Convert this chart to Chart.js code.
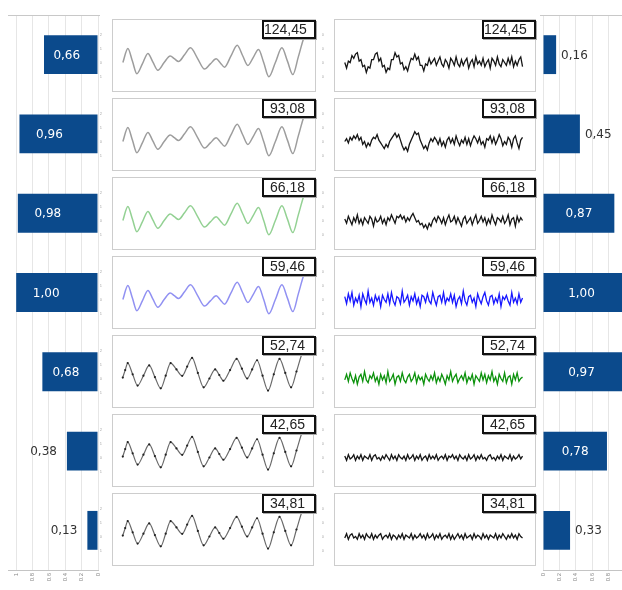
<!DOCTYPE html>
<html>
<head>
<meta charset="utf-8">
<script src="https://cdn.jsdelivr.net/npm/chart.js@4.4.1/dist/chart.umd.min.js"></script>
<style>
  html, body { margin: 0; padding: 0; background: #fff; }
  #stage { position: relative; width: 622px; height: 590px; overflow: hidden; background: #fff; }
  .cv { position: absolute; }
  .tag {
    position: absolute; box-sizing: border-box; width: 54px; height: 19px;
    border: 2px solid #111; background: #fff; box-shadow: 1px 1px 0 #aaa;
    font: 14px "Liberation Sans", Arial, sans-serif; color: #222;
    text-align: right; padding-right: 9px; line-height: 15px;
  }
</style>
</head>
<body>
<div id="stage"></div>
<script>
// categories (one row per panel) and the two score columns
const freqLabels = ['124,45', '93,08', '66,18', '59,46', '52,74', '42,65', '34,81'];
const leftScores = [0.66, 0.96, 0.98, 1.00, 0.68, 0.38, 0.13];
const rightScores = [0.16, 0.45, 0.87, 1.00, 0.97, 0.78, 0.33];

// smooth reference signal (top four left panels): [time, amplitude]
const waveSmooth = [
  [0, 0], [55, 1.0], [105, 0.1], [154, -0.8], [215, -0.1], [276, 0.65], [330, 0.05],
  [386, -0.55], [455, 0], [522, 0.47], [568, 0.27], [614, 0.07], [680, 0.55], [746, 1.05],
  [823, 0.3], [901, -0.47], [965, -0.1], [1029, 0.26], [1075, -0.03], [1121, -0.33],
  [1191, 0.45], [1261, 1.23], [1320, 0.5], [1379, -0.21], [1437, 0.35], [1496, 0.93],
  [1553, 0], [1610, -1.02], [1682, 0], [1754, 1.05], [1815, 0.1], [1875, -0.86],
  [1935, 0.4], [1996, 1.77], [2020, 2.1]
];

// sampled signal with markers (bottom three left panels)
const waveSampled = [
  [0, 0.07], [27, 0.6], [55, 1.1], [110, 0.3], [165, -0.5], [230, 0.2], [294, 0.93],
  [358, 0.1], [423, -0.7], [478, 0.2], [533, 1.1], [598, 0.65], [662, 0.19], [717, 0.85],
  [772, 1.47], [836, 0.4], [901, -0.63], [965, 0], [1029, 0.65], [1075, 0.25], [1121, -0.16],
  [1195, 0.6], [1268, 1.4], [1327, 0.7], [1386, 0], [1441, 0.65], [1496, 1.3], [1557, 0.2],
  [1618, -0.86], [1682, 0.3], [1746, 1.4], [1810, 0.4], [1875, -0.63], [1935, 0.5],
  [1996, 1.77], [2020, 2.1]
];

// residual traces on the right, one sample every 20 time units, in tenths
const resid1 = [
  0, -4, 1, 0, 5, 3, 6, 7, 1, 2, -3, -2, -7, -3, -4, 2, 2, 6, 7, 1,
  3, -3, -2, -7, -4, -5, 2, 2, 7, 4, 5, -1, 0, -5, -3, -6, -1, 3, 2, 6,
  2, 4, -2, -2, -6, -1, -2, 3, -1, 1, 3, -2, 1, 4, -1, -3, 2, 0, -4, 3,
  1, -2, 4, -1, -3, 2, -2, 1, 3, -4, 0, 2, -3, 4, -1, 1, -2, 3, -3, 0,
  2, -4, 3, 1, -2, 4, -1, -3, 2, 0, -2, 3, -1, 4, -3, 1, -2, 2, 4, -3
];
const resid2 = [
  0, 2, -1, 3, 1, 4, 2, 5, 1, 3, -2, 0, -4, -1, -3, 1, 3, 2, 5, 1,
  -1, -3, -5, -2, -4, 0, 2, 4, 6, 3, 5, 1, -3, -6, -4, -7, -2, 1, 4, 7,
  5, 6, 1, -2, -5, -3, -6, -1, 2, 0, 3, 1, -2, 2, -3, 0, -4, 1, 3, -1,
  2, -2, 4, 0, -3, 1, -1, 3, -2, 2, -3, 1, 4, 2, -1, 3, -2, 0, -4, 2,
  1, 4, -1, 3, -2, 1, 5, 2, -3, 0, -2, 3, 1, -4, 2, 4, -1, -5, 1, 3
];
const resid3 = [
  1, -2, 3, 0, -3, 2, -1, 4, -2, 1, -3, 2, 0, -2, 3, 1, -4, 2, -1, 0,
  3, -2, 1, -3, 2, 0, 4, 1, -2, 3, 2, 4, 1, 3, -1, 2, 0, 3, 5, 2,
  -1, 0, -3, -2, -5, -3, -6, -2, -4, 0, 2, -1, 3, 1, -2, 2, -3, 1, 4, -1,
  0, 3, -2, 2, -1, -4, 1, 3, -2, 0, 2, -3, 1, 4, -2, 0, 3, -1, 2, -3,
  1, -2, 4, 0, -3, 2, 1, -1, 3, -2, 0, 4, -3, 1, 2, -4, 3, -1, 2, 0
];
const resid4 = [
  2, -3, 4, -1, 5, -4, 1, -2, 3, -5, 4, 0, -3, 6, -2, 1, -4, 3, -1, 2,
  -5, 3, 0, -2, 4, -3, 5, -1, -4, 2, 1, -3, 6, -2, 0, 3, -4, 2, -1, 4,
  -3, 1, -5, 3, 2, -2, 4, -1, -3, 5, 0, -4, 2, 3, -2, 5, -3, 1, -1, 4,
  -2, 3, -5, 0, 2, -3, 6, -1, -4, 2, 3, -2, 1, -5, 4, 0, -3, 2, 5, -1,
  -4, 2, 3, -3, 1, -2, 4, -5, 2, 0, 3, -1, -4, 5, -2, 1, -3, 4, -2, 1
];
const resid5 = [
  -1, 3, -2, 4, 0, -3, 2, -4, 1, 3, -2, 5, -1, -3, 2, 0, 4, -2, 1, -4,
  3, -1, 2, -3, 5, -2, 0, 3, -4, 1, 2, -2, 4, -1, -3, 1, 3, -2, 0, 4,
  -3, 2, -1, 1, -4, 3, 0, -2, 2, -1, 4, -3, 1, -2, 3, 0, -4, 2, -1, 5,
  -2, 1, 3, -3, 0, 2, -1, 4, -3, 1, -1, 3, -4, 2, 0, -2, 4, -1, 3, -3,
  2, -1, 5, -2, 1, -4, 3, 0, -2, 4, -3, 1, 2, -4, 3, -1, 4, -2, 0, 1
];
const resid6 = [
  1, -2, 2, -1, 0, 2, -2, 1, -1, 2, -2, 1, 0, -1, 2, -2, 1, 2, -1, 0,
  -2, 1, -1, 2, 0, -2, 2, -1, 1, -2, 2, 0, -1, 1, -2, 2, -1, 0, 2, -2,
  1, -1, 2, -2, 0, 1, -2, 2, -1, 1, -1, 2, -2, 0, 1, -1, 2, -2, 1, 0,
  2, -1, 1, -2, 2, 0, -1, 1, -2, 2, -1, 0, 2, -2, 1, -1, 2, -1, 0, -2,
  1, 2, -1, 0, -2, 1, -1, 2, -2, 1, 0, -1, 2, -2, 1, -1, 0, 2, -1, 1
];
const resid7 = [
  -1, 2, -2, 1, 2, -1, 0, -2, 2, -1, 1, -2, 2, 0, -1, 2, -2, 1, -1, 1,
  2, -2, 0, 1, -1, 2, -2, 1, 0, -2, 1, -1, 2, -2, 1, 0, -1, 2, -2, 1,
  -1, 0, 2, -1, 1, -2, 2, -1, 0, 2, -2, 1, -1, 2, -2, 0, 1, -1, 2, -2,
  1, -2, 0, 2, -1, 1, -2, 2, -1, 0, 1, -2, 2, -1, 1, 0, -2, 2, -1, 1,
  -2, 1, 0, -1, 2, -2, 1, -1, 2, 0, -2, 1, -1, 2, -1, 1, -2, 2, 0, -1
];

const leftWaves = [waveSmooth, waveSmooth, waveSmooth, waveSmooth, waveSampled, waveSampled, waveSampled];
const leftColors = ['#9d9d9d', '#9d9d9d', '#93d193', '#9191f2', '#6a6a6a', '#6a6a6a', '#6a6a6a'];
const rightResids = [resid1, resid2, resid3, resid4, resid5, resid6, resid7];
const rightColors = ['#151515', '#151515', '#151515', '#1717ff', '#0c920c', '#151515', '#151515'];

const stage = document.getElementById('stage');
const panelTops = [19, 98, 177, 256, 335, 414, 493];
const barBlue = '#0b4a8c';

function addCanvas(left, top, width, height) {
  const c = document.createElement('canvas');
  c.width = width;
  c.height = height;
  c.className = 'cv';
  c.style.left = left + 'px';
  c.style.top = top + 'px';
  stage.appendChild(c);
  return c;
}

// thin grey box round every small plot
const framePlugin = {
  id: 'frame',
  beforeDatasetsDraw(chart) {
    const { ctx, chartArea: a } = chart;
    ctx.save();
    ctx.strokeStyle = '#cdcdcd';
    ctx.lineWidth = 1;
    ctx.strokeRect(a.left + 0.5, a.top + 0.5, a.right - a.left - 1, a.bottom - a.top - 1);
    ctx.restore();
  }
};

// value labels on the score bars, plus the top rule
const barLabels = {
  id: 'barLabels',
  beforeDatasetsDraw(chart, args, opts) {
    const { ctx, chartArea: a } = chart;
    ctx.save();
    ctx.strokeStyle = '#c8c8c8';
    ctx.beginPath();
    ctx.moveTo(a.left - (opts.mirror ? 0 : 3), a.top + 0.5);
    ctx.lineTo(a.right + (opts.mirror ? 2 : 0), a.top + 0.5);
    ctx.stroke();
    ctx.restore();
  },
  afterDatasetsDraw(chart, args, opts) {
    const ctx = chart.ctx;
    const meta = chart.getDatasetMeta(0);
    const vals = chart.data.datasets[0].data;
    ctx.save();
    ctx.font = '12px "DejaVu Sans", Verdana, sans-serif';
    ctx.textBaseline = 'middle';
    meta.data.forEach((bar, i) => {
      const v = vals[i];
      const txt = v.toFixed(2).replace('.', ',');
      const len = Math.abs(bar.x - bar.base);
      if (v >= 0.5) {
        ctx.fillStyle = '#fff';
        ctx.textAlign = 'center';
        const cx = opts.mirror ? bar.x + Math.min(len / 2 - 4, 30) : bar.base + Math.min(len / 2, 38);
        ctx.fillText(txt, cx, bar.y + 1);
      } else {
        ctx.fillStyle = '#333';
        if (opts.mirror) {
          ctx.textAlign = 'right';
          ctx.fillText(txt, bar.x - 10, bar.y + 1);
        } else {
          ctx.textAlign = 'left';
          ctx.fillText(txt, bar.x + 5, bar.y + 1);
        }
      }
    });
    ctx.restore();
  }
};

function drawScores(canvas, scores, mirror, padding) {
  new Chart(canvas, {
    type: 'bar',
    data: {
      labels: freqLabels,
      datasets: [{
        data: scores,
        backgroundColor: barBlue,
        barPercentage: 1,
        categoryPercentage: 0.49
      }]
    },
    options: {
      indexAxis: 'y',
      responsive: false,
      animation: false,
      layout: { padding: padding },
      plugins: { legend: { display: false }, tooltip: { enabled: false }, barLabels: { mirror: mirror } },
      scales: {
        x: {
          reverse: mirror,
          min: 0,
          max: mirror ? 1.1 : 1,
          afterBuildTicks: (axis) => { axis.ticks = axis.ticks.filter(t => t.value <= 1.0001); },
          ticks: {
            stepSize: 0.2, font: { size: 6 }, color: '#888', minRotation: 90, maxRotation: 90,
            autoSkip: false, padding: 3,
            callback: (v) => String(Math.round(v * 10) / 10)
          },
          grid: { color: '#e6e6e6', drawTicks: false },
          border: { color: '#c4c4c4' },
          afterFit: (s) => { s.height = 20; s.paddingLeft = 0; s.paddingRight = 0; }
        },
        y: { display: false }
      }
    },
    plugins: [barLabels]
  });
}

drawScores(addCanvas(0, 0, 104, 590), leftScores, true, { top: 15, left: 8, right: 6, bottom: 0 });
drawScores(addCanvas(536, 0, 100, 590), rightScores, false, { top: 15, left: 7, right: 11, bottom: 0 });

function drawPanel(left, top, width, dataset, yMin, yMax, yStep) {
  const canvas = addCanvas(left, top - 6, width, 87);
  new Chart(canvas, {
    type: 'line',
    data: { datasets: [dataset] },
    options: {
      responsive: false,
      animation: false,
      layout: { padding: { top: 6, right: 2, left: 0, bottom: 0 } },
      plugins: { legend: { display: false }, tooltip: { enabled: false } },
      scales: {
        x: {
          type: 'linear', min: -120, max: 2130,
          grid: { display: false }, border: { display: false },
          afterBuildTicks: (axis) => {
            axis.ticks = axis.ticks.filter(t => t.value >= 0 && t.value <= 2000 && t.value % 250 === 0);
          },
          ticks: { stepSize: 250, font: { size: 4 }, color: '#aaa', padding: 1, maxRotation: 0, autoSkip: false },
          afterFit: (s) => { s.height = 8; }
        },
        y: {
          min: yMin, max: yMax,
          grid: { display: false }, border: { display: false },
          afterBuildTicks: (axis) => {
            axis.ticks = axis.ticks.filter(t => Math.abs(t.value % yStep) < 1e-6);
          },
          ticks: { stepSize: yStep, font: { size: 4 }, color: '#aaa', padding: 2 },
          afterFit: (s) => { s.width = 12; }
        }
      }
    },
    plugins: [framePlugin]
  });
}

panelTops.forEach((top, row) => {
  const sampled = row >= 4;
  drawPanel(100, top, 218, {
    data: leftWaves[row].map(p => ({ x: p[0], y: p[1] })),
    borderColor: leftColors[row],
    borderWidth: sampled ? 1.2 : 1.5,
    cubicInterpolationMode: 'monotone',
    pointRadius: sampled ? 1.1 : 0,
    pointBackgroundColor: '#222',
    pointBorderWidth: 0
  }, -2.1, 3.1, 1);

  drawPanel(322, top, 216, {
    data: rightResids[row].map((v, i) => ({ x: i * 20, y: v })),
    borderColor: rightColors[row],
    borderWidth: 1.3,
    tension: 0,
    pointRadius: 0
  }, -21, 31, 10);

  [262, 482].forEach((x) => {
    const tag = document.createElement('div');
    tag.className = 'tag';
    tag.style.left = x + 'px';
    tag.style.top = (top + 1) + 'px';
    tag.textContent = freqLabels[row];
    stage.appendChild(tag);
  });
});
</script>
</body>
</html>
